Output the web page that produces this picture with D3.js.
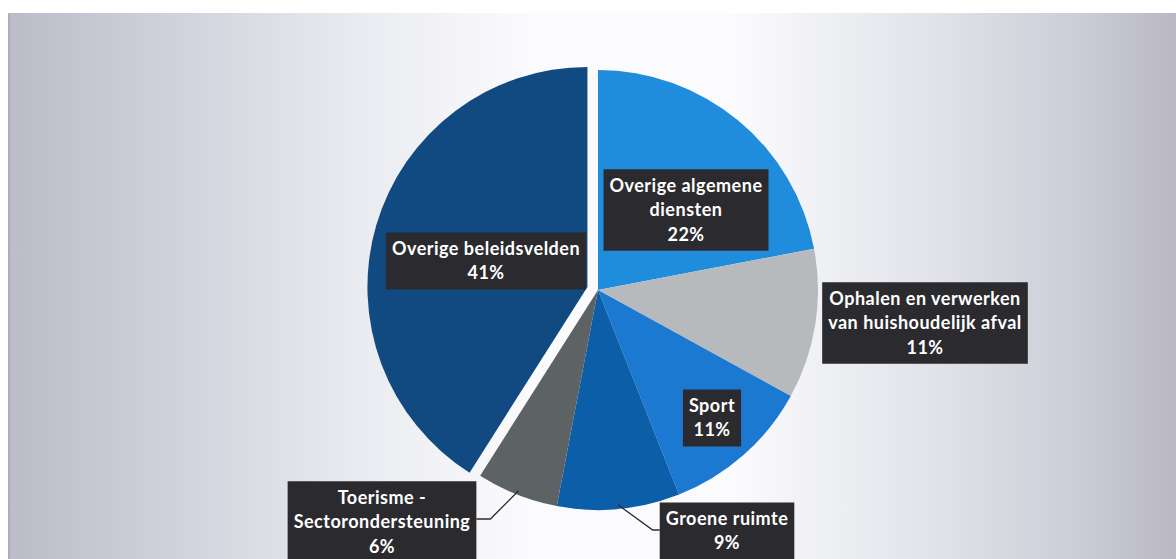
<!DOCTYPE html>
<meta charset="utf-8">
<style>
  body { margin: 0; background: #fff; }
  .lbl text {
    fill: #fff;
    font-family: Lato, "Open Sans", sans-serif;
    font-weight: bold;
    font-size: 18px;
    letter-spacing: 0.5px;
    text-anchor: middle;
  }
  .leader { fill: none; stroke: #2b2b2e; stroke-width: 1.3; }
</style>
<svg width="1176" height="559"></svg>
<script src="https://d3js.org/d3.v7.min.js"></script>
<script>
// Data (clockwise from 12 o'clock)
var categories = ["Overige algemene diensten", "Ophalen en verwerken van huishoudelijk afval",
                  "Sport", "Groene ruimte", "Toerisme - Sectorondersteuning", "Overige beleidsvelden"];
var values = [22, 11, 11, 9, 6, 41];
var labelLines = [
  ["Overige algemene", "diensten"],
  ["Ophalen en verwerken", "van huishoudelijk afval"],
  ["Sport"],
  ["Groene ruimte"],
  ["Toerisme -", "Sectorondersteuning"],
  ["Overige beleidsvelden"]
];
var colors = ["#1f8ddb", "#b6babc", "#1c79d2", "#0b5ea7", "#5d6264", "#114a80"];

// layout: label box centres relative to pie centre, leader side
var labelPos = [[88, -80], [327, 33], [114, 128], [129, 241], [-216, 232], [-112, -29]];
var leader = [null, null, null, "left", "right", null];

var svg = d3.select("svg"),
    width = +svg.attr("width"),
    height = +svg.attr("height");

// Background gradient
var defs = svg.append("defs");
var grad = defs.append("linearGradient").attr("id", "bg").attr("x1", 0).attr("x2", 1).attr("y1", 0).attr("y2", 0);
[[0, "#bcbcc8"], [0.12, "#ccced8"], [0.3, "#eaebf0"], [0.45, "#fbfbfd"], [0.62, "#fbfbfd"],
 [0.8, "#e0e2e8"], [0.92, "#cbccd6"], [1, "#b9b8c4"]].forEach(function (s) {
  grad.append("stop").attr("offset", s[0]).attr("stop-color", s[1]);
});
svg.append("rect").attr("x", 8).attr("y", 13).attr("width", width - 8).attr("height", height - 13)
  .attr("fill", "url(#bg)");
svg.append("line").attr("x1", 9).attr("x2", 9).attr("y1", 14).attr("y2", height)
  .attr("stroke", "#a8a8b2").attr("stroke-width", 1.5);

var cx = 598, cy = 290, r = 220;
var g = svg.append("g").attr("transform", "translate(" + cx + "," + cy + ")");

var pie = d3.pie().sort(null).value(function (d) { return d; });
var arcs = pie(values);
var arc = d3.arc().innerRadius(0).outerRadius(r);
var explode = 11;

function offset(d, i) {
  if (i !== values.length - 1) return [0, 0];
  var a = (d.startAngle + d.endAngle) / 2;
  return [explode * Math.sin(a), -explode * Math.cos(a)];
}

g.selectAll("path.slice")
  .data(arcs)
  .enter().append("path")
  .attr("class", "slice")
  .attr("d", arc)
  .attr("fill", function (d, i) { return colors[i]; })
  .attr("transform", function (d, i) { var o = offset(d, i); return "translate(" + o[0] + "," + o[1] + ")"; });

// Labels
var lineH = 24.5;
var lbl = g.selectAll("g.lbl")
  .data(arcs)
  .enter().append("g")
  .attr("class", "lbl")
  .attr("transform", function (d, i) { return "translate(" + labelPos[i][0] + "," + labelPos[i][1] + ")"; });

lbl.each(function (d, i) {
  var sel = d3.select(this);
  var lines = labelLines[i].concat([values[i] + "%"]);
  var n = lines.length;
  var box = sel.append("rect").attr("fill", "#2b2b2f");
  var maxW = 0;
  lines.forEach(function (t, k) {
    var tx = sel.append("text")
      .attr("y", (k - (n - 1) / 2) * lineH + 6)
      .text(t);
    maxW = Math.max(maxW, tx.node().getComputedTextLength());
  });
  var w = maxW + 12, h = n * lineH + 8;
  box.attr("x", -w / 2).attr("y", -h / 2).attr("width", w).attr("height", h);
  d.box = { w: w, h: h };
});

// Leader lines for outside labels
arcs.forEach(function (d, i) {
  if (!leader[i]) return;
  var a = (d.startAngle + d.endAngle) / 2;
  var p0 = [(r - 4) * Math.sin(a), -(r - 4) * Math.cos(a)];
  var c = labelPos[i], bw = d.box.w;
  var pts;
  if (leader[i] === "left") {
    var ex = c[0] - bw / 2, ey = c[1] - 1;
    pts = [p0, [ex - 7, ey], [ex, ey]];
  } else {
    var ex2 = c[0] + bw / 2, ey2 = c[1] - 3;
    pts = [p0, [ex2 + 14, ey2], [ex2, ey2]];
  }
  g.append("path").attr("class", "leader").attr("d", d3.line()(pts));
});
</script>
